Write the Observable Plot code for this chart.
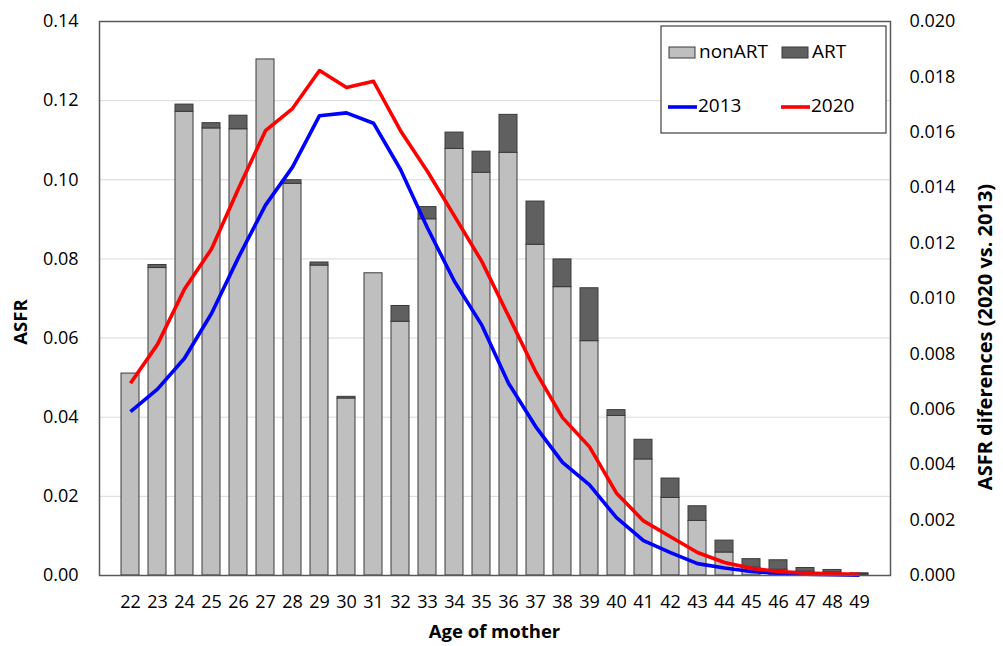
<!DOCTYPE html>
<html>
<head>
<meta charset="utf-8">
<script src="https://cdn.jsdelivr.net/npm/d3@7"></script>
<script src="https://cdn.jsdelivr.net/npm/@observablehq/plot@0.6"></script>
<style>
  html, body { margin: 0; padding: 0; background: #fff; }
  #chart { width: 1003px; height: 646px; }
</style>
</head>
<body>
<div id="chart"></div>
<script>
// Ages of mother (categories)
const ages = [22,23,24,25,26,27,28,29,30,31,32,33,34,35,36,37,38,39,40,41,42,43,44,45,46,47,48,49];
// ASFR differences 2020 vs 2013 (right axis): nonART and ART components
const nonART = [0.00729,0.01110,0.01674,0.01614,0.01611,0.01863,0.01414,0.01119,0.00639,0.01091,
                0.00916,0.01286,0.01540,0.01454,0.01526,0.01194,0.01041,0.00846,0.00576,0.00419,
                0.00280,0.00197,0.00083,0.00029,0.00021,0.00014,0.00011,0.00004];
const ART    = [0.00000,0.00011,0.00026,0.00019,0.00049,0.00000,0.00013,0.00011,0.00006,0.00000,
                0.00057,0.00044,0.00059,0.00076,0.00137,0.00156,0.00100,0.00191,0.00021,0.00071,
                0.00070,0.00053,0.00043,0.00030,0.00034,0.00013,0.00009,0.00004];
// ASFR (left axis)
const asfr2013 = [0.0414,0.0471,0.0549,0.0662,0.0804,0.0936,0.1032,0.1162,0.1169,0.1143,
                  0.1026,0.0878,0.0743,0.0634,0.0486,0.0377,0.0286,0.0229,0.0146,0.0088,
                  0.0058,0.0030,0.0019,0.0010,0.0005,0.0003,0.0002,0.0001];
const asfr2020 = [0.0486,0.0584,0.0724,0.0825,0.0978,0.1124,0.1180,0.1276,0.1233,0.1249,
                  0.1124,0.1021,0.0908,0.0795,0.0656,0.0516,0.0399,0.0325,0.0208,0.0138,
                  0.0098,0.0058,0.0033,0.0018,0.0010,0.0006,0.0004,0.0003];
// Tick values
const leftTicks = [0, 0.02, 0.04, 0.06, 0.08, 0.10, 0.12, 0.14];
const rightTicks = [0, 0.002, 0.004, 0.006, 0.008, 0.010, 0.012, 0.014, 0.016, 0.018, 0.020];

const ratio = 0.14 / 0.020; // right axis -> left axis

const barRows = [];
ages.forEach((a, i) => {
  barRows.push({age: a, type: "nonART", v: nonART[i] * ratio});
  barRows.push({age: a, type: "ART", v: ART[i] * ratio});
});
const lineRows = [];
ages.forEach((a, i) => {
  lineRows.push({age: a, year: "2013", v: asfr2013[i]});
  lineRows.push({age: a, year: "2020", v: asfr2020[i]});
});

const FONT = "'Open Sans', 'Noto Sans', sans-serif";

const plot = Plot.plot({
  width: 1003,
  height: 646,
  marginLeft: 99,
  marginRight: 113,
  marginTop: 21,
  marginBottom: 71,
  style: {fontFamily: FONT, fontSize: "18px", color: "#000", background: "#fff"},
  x: {type: "band", domain: ages, padding: 0.33, axis: null},
  y: {domain: [0, 0.14], axis: null},
  color: {domain: ["nonART", "ART"], range: ["#bfbfbf", "#606060"]},
  marks: [
    Plot.gridY(leftTicks.filter(d => d > 0 && d < 0.14), {stroke: "#d9d9d9", strokeOpacity: 1, strokeWidth: 1}),
    Plot.barY(barRows, {x: "age", y: "v", fill: "type", stroke: "#3a3a3a", strokeWidth: 1, order: ["nonART", "ART"]}),
    Plot.line(lineRows, {x: "age", y: "v", z: "year", stroke: d => d.year === "2013" ? "#0000ff" : "#ff0000", strokeWidth: 3.6, strokeLinejoin: "round", strokeLinecap: "butt"}),
    Plot.frame({stroke: "#595959", strokeWidth: 1.5}),
    Plot.axisY(leftTicks, {anchor: "left", tickSize: 0, tickPadding: 21, tickFormat: d => d.toFixed(2), fontSize: 18, label: null}),
    Plot.axisY(rightTicks.map(d => d * ratio), {anchor: "right", tickSize: 0, tickPadding: 19, tickFormat: d => (d / ratio).toFixed(3), fontSize: 18, label: null}),
    Plot.axisX(ages, {anchor: "bottom", tickSize: 0, tickPadding: 20, fontSize: 18, label: null})
  ]
});

document.getElementById("chart").appendChild(plot);

// Axis titles and legend
const svg = d3.select(plot);
svg.append("text")
  .attr("transform", "translate(22,322) rotate(-90)")
  .attr("text-anchor", "middle").attr("dominant-baseline", "middle")
  .style("font-family", FONT).style("font-weight", "bold").style("font-size", "18.5px")
  .text("ASFR");
svg.append("text")
  .attr("transform", "translate(987,337) rotate(-90)")
  .attr("text-anchor", "middle").attr("dominant-baseline", "middle")
  .style("font-family", FONT).style("font-weight", "bold").style("font-size", "20px")
  .text("ASFR diferences (2020 vs. 2013)");
svg.append("text")
  .attr("x", 494.5).attr("y", 633)
  .attr("text-anchor", "middle").attr("dominant-baseline", "middle")
  .style("font-family", FONT).style("font-weight", "bold").style("font-size", "18.5px")
  .text("Age of mother");

const lg = svg.append("g");
lg.append("rect").attr("x", 661).attr("y", 26).attr("width", 225).attr("height", 107)
  .attr("fill", "#fff").attr("stroke", "#404040").attr("stroke-width", 1.2);
const items = [
  {kind: "rect", fill: "#bfbfbf", x: 669, y: 53, label: "nonART"},
  {kind: "rect", fill: "#606060", x: 782, y: 53, label: "ART"},
  {kind: "line", stroke: "#0000ff", x: 668, y: 107, label: "2013"},
  {kind: "line", stroke: "#ff0000", x: 781, y: 107, label: "2020"}
];
items.forEach(it => {
  if (it.kind === "rect") {
    lg.append("rect").attr("x", it.x).attr("y", it.y - 6).attr("width", 26).attr("height", 11)
      .attr("fill", it.fill).attr("stroke", "#3a3a3a").attr("stroke-width", 1);
  } else {
    lg.append("line").attr("x1", it.x).attr("x2", it.x + 29).attr("y1", it.y).attr("y2", it.y)
      .attr("stroke", it.stroke).attr("stroke-width", 3.6);
  }
  lg.append("text").attr("x", it.x + 30).attr("y", it.y)
    .attr("text-anchor", "start")
    .attr("dominant-baseline", "middle")
    .style("font-family", FONT).style("font-size", "19px")
    .text(it.label);
});
</script>
</body>
</html>
